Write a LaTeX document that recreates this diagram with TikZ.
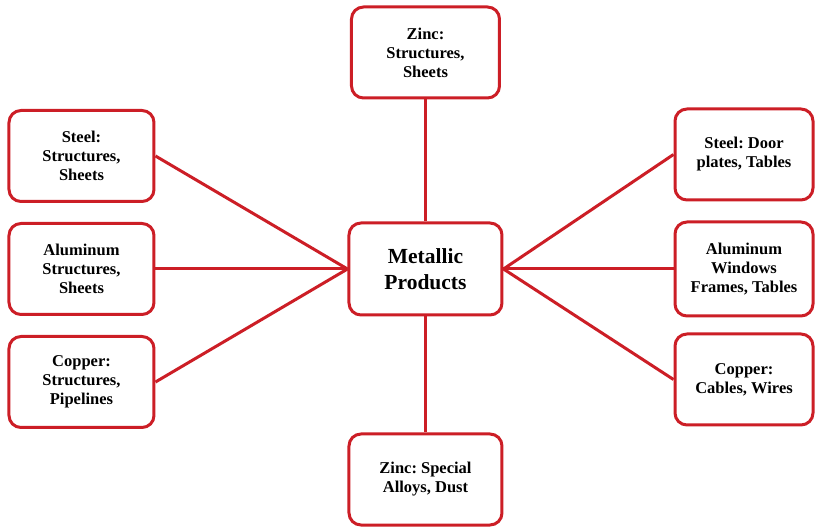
\documentclass[tikz,border=0pt]{standalone}
\usepackage{fontspec}
\setmainfont{Liberation Serif}
\usetikzlibrary{positioning}
\definecolor{boxred}{RGB}{204,30,38}
\frenchspacing

\begin{document}
\begin{tikzpicture}
  \tikzset{node distance = 19pt}
  \tikzset{Box/.style = {draw = boxred, line width = 3pt, rounded corners = 12pt,
                         fill = white, align = center, inner sep = 0pt,
                         font = \bfseries\fontsize{16.5}{19}\selectfont,
                         minimum width = 145pt, minimum height = 91pt}}
  \tikzset{Link/.style = {draw = boxred, line width = 3pt}}
  \useasboundingbox (-425.5pt,-258pt) rectangle (391.5pt,269pt);

  \node[Box, minimum width = 153pt, minimum height = 92pt,
        font = \bfseries\fontsize{21.5}{26}\selectfont] (M) at (0,0) {Metallic\\Products};
  \node[Box, minimum width = 148pt, above = 122pt of M] (ZT) {Zinc:\\Structures,\\Sheets};
  \node[Box, minimum width = 153pt, below = 116pt of M] (ZB) {Zinc: Special\\Alloys, Dust};

  % left column
  \node[Box, left = 192pt of M] (AL) {Aluminum\\Structures,\\Sheets};
  \node[Box, above = of AL] (SL) {Steel:\\Structures,\\Sheets};
  \node[Box, below = of AL] (CL) {Copper:\\Structures,\\Pipelines};

  % right column
  \node[Box, minimum width = 138pt, minimum height = 94pt, right = 170pt of M] (AR) {Aluminum\\Windows\\Frames, Tables};
  \node[Box, minimum width = 138pt, above = 19pt of AR] (SR) {Steel: Door\\plates, Tables};
  \node[Box, minimum width = 138pt, below = 15pt of AR] (CR) {Copper:\\Cables, Wires};

  \foreach \n in {SL,AL,CL}
    \draw[Link] (M.west) -- (\n.east);
  \foreach \n in {SR,AR,CR}
    \draw[Link] (M.east) -- (\n.west);
  \draw[Link] (M.north) -- (ZT.south);
  \draw[Link] (M.south) -- (ZB.north);
\end{tikzpicture}
\end{document}
